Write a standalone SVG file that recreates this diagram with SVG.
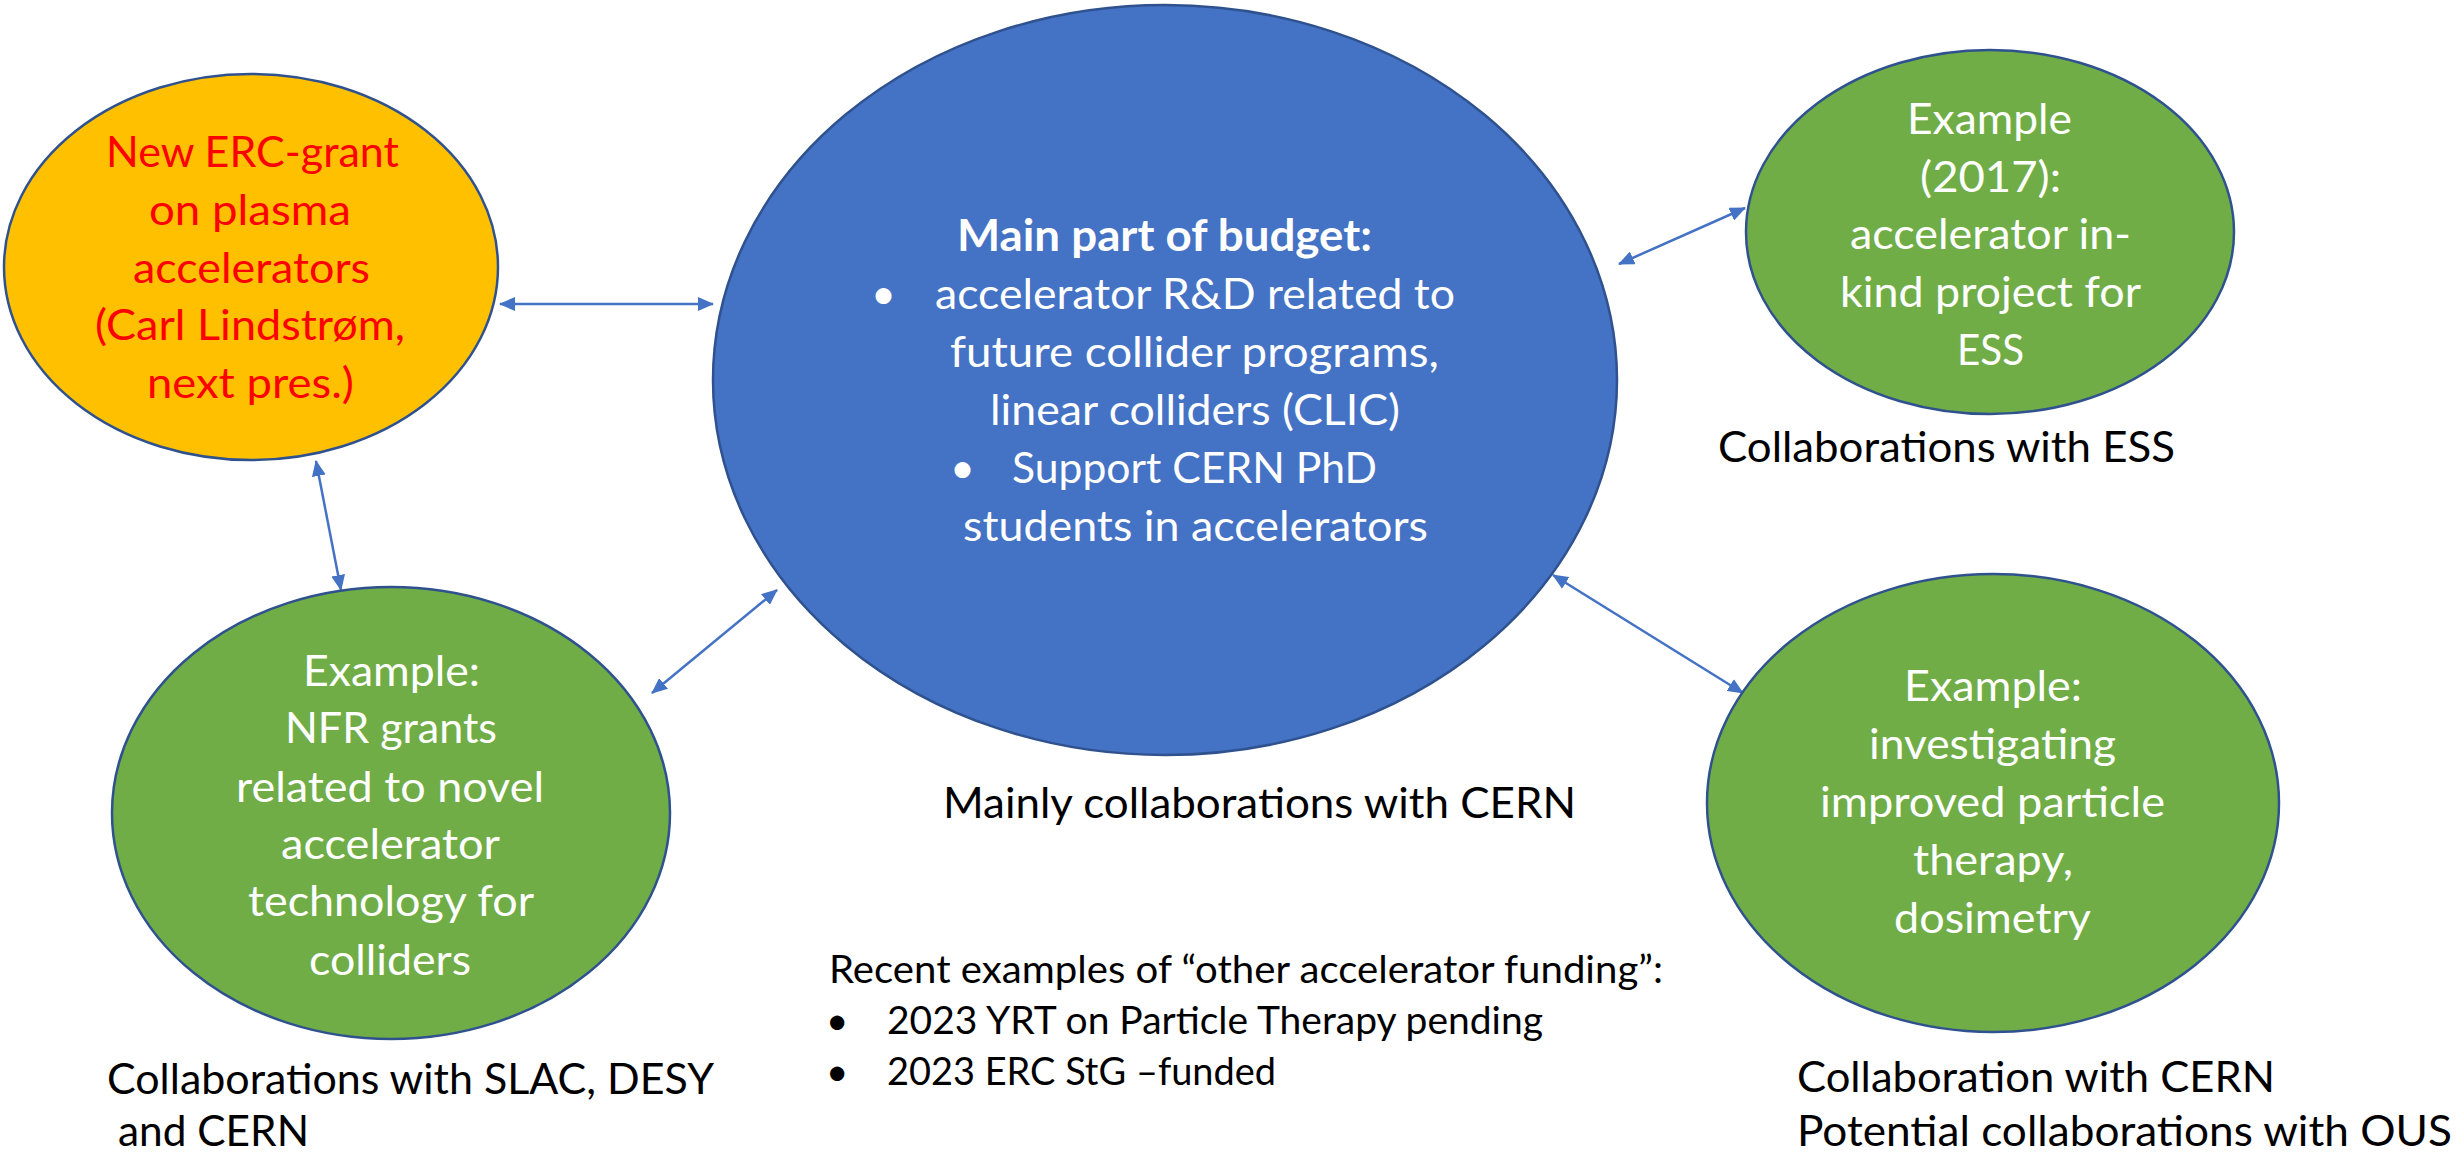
<svg xmlns="http://www.w3.org/2000/svg" width="2458" height="1153" viewBox="0 0 2458 1153">
  <style>
    .node { stroke: #2F528F; stroke-width: 2.5; }
    .orange { fill: #FFC000; }
    .blue { fill: #4472C4; }
    .green { fill: #70AD47; }
    text { font-family: Lato, "Liberation Sans", sans-serif; font-size: 43px; }
    .red { fill: #FF0000; }
    .white { fill: #FFFFFF; }
    .black { fill: #000000; }
    .bold { font-weight: bold; }
    .small { font-size: 38.5px; }
    .link { stroke: #4472C4; stroke-width: 2.5; fill: none; marker-start: url(#head); marker-end: url(#head); }
  </style>
  <defs>
    <marker id="head" viewBox="0 0 16 14" refX="15" refY="7" markerWidth="16" markerHeight="14" markerUnits="userSpaceOnUse" orient="auto-start-reverse">
      <path d="M0,0 L16,7 L0,14 z" fill="#4472C4"/>
    </marker>
  </defs>
  <rect width="2458" height="1153" fill="#FFFFFF"/>

  <!-- connectors -->
  <g id="connectors">
    <line class="link" x1="500" y1="304" x2="713" y2="304"/>
    <line class="link" x1="316" y1="461" x2="341" y2="590"/>
    <line class="link" x1="652" y1="693" x2="777" y2="590"/>
    <line class="link" x1="1619" y1="264" x2="1745" y2="208"/>
    <line class="link" x1="1553" y1="575" x2="1743" y2="693"/>
  </g>

  <!-- ERC grant -->
  <g id="erc-grant">
    <ellipse class="node orange" cx="251" cy="267" rx="247" ry="193"/>
    <text class="red" x="106" y="167" textLength="293" lengthAdjust="spacingAndGlyphs">New ERC-grant</text>
    <text class="red" x="149" y="225" textLength="202" lengthAdjust="spacingAndGlyphs">on plasma</text>
    <text class="red" x="133" y="283" textLength="237" lengthAdjust="spacingAndGlyphs">accelerators</text>
    <text class="red" x="95" y="340" textLength="310" lengthAdjust="spacingAndGlyphs">(Carl Lindstrøm,</text>
    <text class="red" x="147" y="398" textLength="207" lengthAdjust="spacingAndGlyphs">next pres.)</text>
  </g>

  <!-- main budget -->
  <g id="main-budget">
    <ellipse class="node blue" cx="1165" cy="380" rx="452" ry="375"/>
    <text class="white bold" x="957" y="251" textLength="415" lengthAdjust="spacingAndGlyphs">Main part of budget:</text>
    <text class="white" x="871" y="309">•</text>
    <text class="white" x="935" y="309" textLength="520" lengthAdjust="spacingAndGlyphs">accelerator R&amp;D related to</text>
    <text class="white" x="950" y="367" textLength="489" lengthAdjust="spacingAndGlyphs">future collider programs,</text>
    <text class="white" x="990" y="425" textLength="410" lengthAdjust="spacingAndGlyphs">linear colliders (CLIC)</text>
    <text class="white" x="950" y="483">•</text>
    <text class="white" x="1012" y="483" textLength="365" lengthAdjust="spacingAndGlyphs">Support CERN PhD</text>
    <text class="white" x="963" y="541" textLength="465" lengthAdjust="spacingAndGlyphs">students in accelerators</text>
  </g>
  <text class="black" x="943" y="818" textLength="633" lengthAdjust="spacingAndGlyphs">Mainly collaborations with CERN</text>

  <!-- ESS in-kind -->
  <g id="ess">
    <ellipse class="node green" cx="1990" cy="232" rx="244" ry="182"/>
    <text class="white" x="1907" y="134" textLength="165" lengthAdjust="spacingAndGlyphs">Example</text>
    <text class="white" x="1920" y="192" textLength="141" lengthAdjust="spacingAndGlyphs">(2017):</text>
    <text class="white" x="1850" y="249" textLength="281" lengthAdjust="spacingAndGlyphs">accelerator in-</text>
    <text class="white" x="1840" y="307" textLength="301" lengthAdjust="spacingAndGlyphs">kind project for</text>
    <text class="white" x="1957" y="365" textLength="67" lengthAdjust="spacingAndGlyphs">ESS</text>
  </g>
  <text class="black" x="1718" y="462" textLength="457" lengthAdjust="spacingAndGlyphs">Collaborations with ESS</text>

  <!-- NFR grants -->
  <g id="nfr">
    <ellipse class="node green" cx="391" cy="813" rx="279" ry="226"/>
    <text class="white" x="303" y="686" textLength="177" lengthAdjust="spacingAndGlyphs">Example:</text>
    <text class="white" x="285" y="743" textLength="212" lengthAdjust="spacingAndGlyphs">NFR grants</text>
    <text class="white" x="236" y="802" textLength="308" lengthAdjust="spacingAndGlyphs">related to novel</text>
    <text class="white" x="281" y="859" textLength="219" lengthAdjust="spacingAndGlyphs">accelerator</text>
    <text class="white" x="248" y="916" textLength="286" lengthAdjust="spacingAndGlyphs">technology for</text>
    <text class="white" x="309" y="975" textLength="162" lengthAdjust="spacingAndGlyphs">colliders</text>
  </g>
  <text class="black" x="107" y="1094" textLength="607" lengthAdjust="spacingAndGlyphs">Collaborations with SLAC, DESY</text>
  <text class="black" x="118" y="1146" textLength="191" lengthAdjust="spacingAndGlyphs">and CERN</text>

  <!-- particle therapy -->
  <g id="therapy">
    <ellipse class="node green" cx="1993" cy="803" rx="286" ry="229"/>
    <text class="white" x="1904" y="701" textLength="178" lengthAdjust="spacingAndGlyphs">Example:</text>
    <text class="white" x="1869" y="759" textLength="247" lengthAdjust="spacingAndGlyphs">investigating</text>
    <text class="white" x="1820" y="817" textLength="345" lengthAdjust="spacingAndGlyphs">improved particle</text>
    <text class="white" x="1913" y="875" textLength="160" lengthAdjust="spacingAndGlyphs">therapy,</text>
    <text class="white" x="1894" y="933" textLength="197" lengthAdjust="spacingAndGlyphs">dosimetry</text>
  </g>
  <text class="black" x="1797" y="1092" textLength="478" lengthAdjust="spacingAndGlyphs">Collaboration with CERN</text>
  <text class="black" x="1797" y="1146" textLength="655" lengthAdjust="spacingAndGlyphs">Potential collaborations with OUS</text>

  <!-- other funding list -->
  <g id="other-funding">
    <text class="black small" x="829" y="983" textLength="834" lengthAdjust="spacingAndGlyphs">Recent examples of “other accelerator funding”:</text>
    <text class="black small" x="826" y="1034">•</text>
    <text class="black small" x="887" y="1034" textLength="656" lengthAdjust="spacingAndGlyphs">2023 YRT on Particle Therapy pending</text>
    <text class="black small" x="826" y="1085">•</text>
    <text class="black small" x="887" y="1085" textLength="389" lengthAdjust="spacingAndGlyphs">2023 ERC StG –funded</text>
  </g>
</svg>
